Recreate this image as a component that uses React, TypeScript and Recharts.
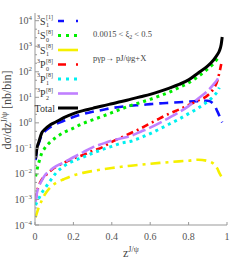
import React from 'react';
import { LineChart, Line, XAxis, YAxis } from 'recharts';

const FONT = "'Liberation Serif', 'DejaVu Serif', serif";

// z^{J/psi} sampling points
const zGrid = [0.003, 0.01, 0.02, 0.035, 0.05, 0.08, 0.11, 0.15, 0.2, 0.25, 0.3, 0.35, 0.4, 0.45, 0.5, 0.55, 0.6, 0.65, 0.7, 0.75, 0.8, 0.85, 0.9, 0.93, 0.95, 0.96, 0.97, 0.975];

// dsigma/dz [nb/bin]
const s1Singlet = [0.035, 0.09, 0.16, 0.33, 0.45, 0.68, 0.9, 1.2, 1.7, 2.2, 2.7, 3.2, 3.8, 4.3, 4.7, 5.0, 5.4, 5.8, 6.1, 6.4, 6.8, 7.1, 7.3, 5.5, 2.8, 1.9, 1.25, 1.05];
const s0Octet = [0.008, 0.014, 0.028, 0.065, 0.1, 0.18, 0.27, 0.42, 0.62, 0.95, 1.3, 1.8, 2.5, 3.5, 4.8, 6.3, 8.3, 11.5, 16, 24, 37, 65, 130, 210, 320, 400, null, null];
const s1Octet = [0.0002, 0.0003, 0.0005, 0.0009, 0.0015, 0.003, 0.0045, 0.0062, 0.0088, 0.011, 0.013, 0.015, 0.017, 0.019, 0.021, 0.023, 0.025, 0.027, 0.029, 0.031, 0.033, 0.036, 0.032, 0.025, 0.016, 0.011, 0.008, null];
const p0Octet = [0.0009, 0.002, 0.0035, 0.006, 0.008, 0.013, 0.019, 0.027, 0.04, 0.055, 0.08, 0.11, 0.18, 0.27, 0.4, 0.6, 0.95, 1.5, 2.3, 3.3, 5, 7.5, 12, 22, 45, 90, 200, null];
const p1Octet = [0.0006, 0.0008, 0.0011, 0.0018, 0.0026, 0.0055, 0.011, 0.02, 0.032, 0.045, 0.065, 0.09, 0.12, 0.16, 0.19, 0.26, 0.38, 0.58, 0.9, 1.4, 2.3, 3.8, 7, 11, 17, 24, null, null];
const p2Octet = [0.0008, 0.0018, 0.0032, 0.0055, 0.0085, 0.014, 0.02, 0.028, 0.045, 0.07, 0.11, 0.15, 0.2, 0.25, 0.31, 0.45, 0.65, 1.0, 1.6, 2.6, 4.5, 9, 18, 32, 50, 70, null, null];
const total = [0.04, 0.1, 0.18, 0.4, 0.55, 0.85, 1.1, 1.6, 2.3, 3.0, 3.7, 4.6, 5.6, 6.8, 8.5, 10.5, 13, 17, 23, 32, 48, 90, 170, 290, 470, 650, 1200, 2300];

const xTicks = [0, 0.2, 0.4, 0.6, 0.8, 1];
const yExponents = [-4, -3, -2, -1, 0, 1, 2, 3, 4];
const Y_MAX = 2e4;

const series = [
  { key: 's1c1', values: s1Singlet, pre: '3', letter: 'S', sub: '1', sup: '[1]', color: '#1010ff', dash: '9 6', legendDash: '6 12', width: 2.6 },
  { key: 's0c8', values: s0Octet, pre: '1', letter: 'S', sub: '0', sup: '[8]', color: '#00ee00', dash: '3 4', legendDash: '3 5', width: 3 },
  { key: 's1c8', values: s1Octet, pre: '3', letter: 'S', sub: '1', sup: '[8]', color: '#f5f000', dash: '10 5 3 5', legendDash: undefined, width: 2.6 },
  { key: 'p0c8', values: p0Octet, pre: '3', letter: 'P', sub: '0', sup: '[8]', color: '#ff0000', dash: '7 4 2 4', legendDash: '8 10 2 4', width: 2.6 },
  { key: 'p1c8', values: p1Octet, pre: '3', letter: 'P', sub: '1', sup: '[8]', color: '#00f0f0', dash: '3 4', legendDash: '3 5', width: 3 },
  { key: 'p2c8', values: p2Octet, pre: '3', letter: 'P', sub: '2', sup: '[8]', color: '#c080ff', dash: '14 4', legendDash: undefined, width: 2.6 },
  { key: 'total', values: total, pre: '', letter: 'Total', sub: '', sup: '', color: '#000000', dash: undefined, legendDash: undefined, width: 3 },
];

const data = zGrid.map((z, i) => {
  const row: Record<string, number | null> = { z };
  series.forEach(s => { row[s.key] = s.values[i]; });
  return row;
});

const yTicks: number[] = [];
yExponents.forEach(e => {
  yTicks.push(Math.pow(10, e));
  [1 / 3, 2 / 3].forEach(f => {
    const v = Math.pow(10, e + f);
    if (v <= Y_MAX) yTicks.push(v);
  });
});

const isMajor = (v: number) => {
  const e = Math.log10(v);
  return Math.abs(e - Math.round(e)) < 1e-6;
};

const LeftTick = (props: any) => {
  const { x, y, payload } = props;
  const ax = x + 3;
  const major = isMajor(payload.value);
  const e = Math.round(Math.log10(payload.value));
  return (
    <g>
      <line x1={ax} x2={ax + (major ? 4 : 2)} y1={y} y2={y} stroke="#999" />
      {major && (
        <text x={x} y={y + 3.5} textAnchor="end" fontSize={10} fill="#555" fontFamily={FONT}>
          10<tspan dy={-4} fontSize={7}>{e < 0 ? '\u2212' + -e : e}</tspan>
        </text>
      )}
    </g>
  );
};

const RightTick = (props: any) => {
  const { x, y, payload } = props;
  const major = isMajor(payload.value);
  return <line x1={x} x2={x - (major ? 4 : 2)} y1={y} y2={y} stroke="#999" />;
};

const StateLabel = ({ x, y, s }: { x: number; y: number; s: typeof series[number] }) => {
  if (!s.pre) {
    return (
      <text x={x} y={y + 3.5} textAnchor="end" fontSize={10} fill="#333" fontFamily={FONT}>{s.letter}</text>
    );
  }
  return (
    <g fill="#333" fontFamily={FONT}>
      <text x={x - 18} y={y - 2} fontSize={6}>{s.pre}</text>
      <text x={x - 15} y={y + 3.5} fontSize={10}>{s.letter}</text>
      <text x={x - 9} y={y + 6} fontSize={6}>{s.sub}</text>
      <text x={x - 9} y={y - 2} fontSize={6}>{s.sup}</text>
    </g>
  );
};

const Overlay = () => (
  <svg width={240} height={262} style={{ position: 'absolute', left: 0, top: 0, pointerEvents: 'none' }}>
    {series.map((s, i) => {
      const y = 21 + i * 14.5;
      return (
        <g key={s.key}>
          <StateLabel x={55} y={y} s={s} />
          <line x1={58} x2={78} y1={y} y2={y} stroke={s.color} strokeWidth={s.width} strokeDasharray={s.legendDash} />
        </g>
      );
    })}
    <g fontFamily={FONT} fill="#444" fontSize={8.5}>
      <text x={93} y={37}>
        0.0015 &lt; ξ<tspan dy={2} fontSize={6}>2</tspan><tspan dy={-2}> &lt; 0.5</tspan>
      </text>
      <text x={93} y={61}>pγp→ pJ/ψg+X</text>
    </g>
    <g fontFamily={FONT} fill="#444">
      <text transform="translate(11,110) rotate(-90)" textAnchor="middle" fontSize={12}>
        dσ/dz<tspan dy={-4} fontSize={8}>J/ψ</tspan><tspan dy={4}> [nb/bin]</tspan>
      </text>
      <text x={123} y={257} fontSize={12}>
        z<tspan dy={-5} fontSize={8}>J/ψ</tspan>
      </text>
    </g>
  </svg>
);

export default function App() {
  return (
    <div style={{ position: 'absolute', left: 0, top: 0, width: 240, height: 262, background: '#fff' }}>
      <LineChart width={240} height={262} data={data} margin={{ top: 13, right: 13, bottom: 7, left: 5 }}>
        <XAxis
          dataKey="z"
          type="number"
          domain={[0, 1]}
          ticks={xTicks}
          allowDataOverflow
          height={30}
          stroke="#999"
          tickSize={-3}
          tickMargin={11}
          tick={{ fontSize: 10, fill: '#555', fontFamily: FONT }}
        />
        <XAxis
          xAxisId="top"
          dataKey="z"
          orientation="top"
          type="number"
          domain={[0, 1]}
          ticks={xTicks}
          allowDataOverflow
          height={0}
          stroke="#999"
          tickSize={-3}
          tickFormatter={() => ''}
        />
        <YAxis
          type="number"
          scale="log"
          domain={[1e-4, Y_MAX]}
          ticks={yTicks}
          allowDataOverflow
          width={30}
          stroke="#999"
          tickLine={false}
          tickSize={0}
          tickMargin={3}
          tick={<LeftTick />}
          interval={0}
        />
        <YAxis
          yAxisId="right"
          orientation="right"
          type="number"
          scale="log"
          domain={[1e-4, Y_MAX]}
          ticks={yTicks}
          allowDataOverflow
          width={0}
          stroke="#999"
          tickLine={false}
          tickSize={0}
          tickMargin={0}
          tick={<RightTick />}
          interval={0}
        />
        {series.map(s => (
          <Line
            key={s.key}
            dataKey={s.key}
            type="monotone"
            stroke={s.color}
            strokeWidth={s.width}
            strokeDasharray={s.dash}
            dot={false}
            connectNulls={false}
            isAnimationActive={false}
          />
        ))}
      </LineChart>
      <Overlay />
    </div>
  );
}
